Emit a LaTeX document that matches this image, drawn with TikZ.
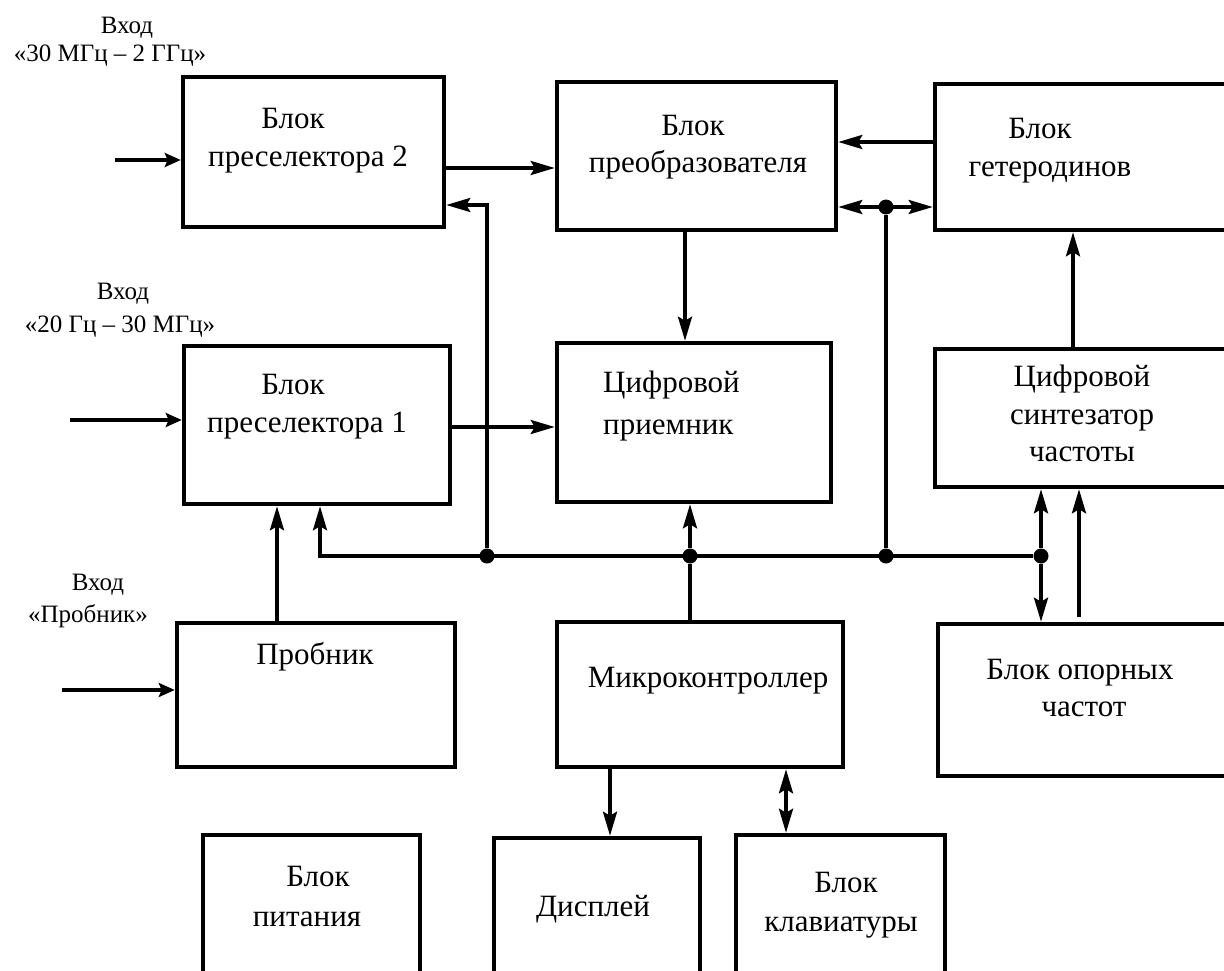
\documentclass[tikz,border=0pt]{standalone}
\usepackage{fontspec}
\setmainfont{Liberation Serif}
\usetikzlibrary{arrows.meta}
\begin{document}
\begin{tikzpicture}[x=1pt,y=-1pt,
  blk/.style={draw, line width=4.5pt, rectangle, inner sep=0pt, anchor=center},
  txt/.style={font=\fontsize{31}{37}\selectfont, anchor=base, inner sep=0pt},
  lbl/.style={font=\fontsize{25}{30}\selectfont, anchor=base, inner sep=0pt},
  tip/.tip={Stealth[length=24pt,width=14pt,inset=4pt]},
  smalltip/.tip={Stealth[length=16pt,width=14pt,inset=3pt]},
  con/.style={line width=3.5pt},
  arr/.style={con, -tip},
  arrb/.style={con, tip-tip},
  inarr/.style={line width=4.5pt, -smalltip},
  dot/.style={circle, fill, inner sep=0pt, minimum size=15pt}]
\useasboundingbox (0,0) rectangle (1224,971);
\fill[white] (0,0) rectangle (1224,971);
\clip (0,0) rectangle (1224,971);

% ---- blocks
\node[blk, minimum width=261pt, minimum height=150pt] (p2)    at (313.5,152)  {};
\node[blk, minimum width=279pt, minimum height=148pt] (conv)  at (696.5,156)  {};
\node[blk, minimum width=305pt, minimum height=146pt] (het)   at (1087.5,157) {};
\node[blk, minimum width=266pt, minimum height=158pt] (p1)    at (317,425)    {};
\node[blk, minimum width=274pt, minimum height=159pt] (rcv)   at (694,422.5)  {};
\node[blk, minimum width=305pt, minimum height=138pt] (syn)   at (1087.5,418) {};
\node[blk, minimum width=278pt, minimum height=144pt] (probe) at (316,695)    {};
\node[blk, minimum width=286pt, minimum height=145pt] (mcu)   at (700,694.5)  {};
\node[blk, minimum width=302pt, minimum height=152pt] (ref)   at (1089,700)   {};
\node[blk, minimum width=217pt, minimum height=155pt] (psu)   at (311.5,912.5){};
\node[blk, minimum width=206pt, minimum height=152pt] (disp)  at (597,914)    {};
\node[blk, minimum width=209pt, minimum height=155pt] (kbd)   at (840.5,912.5){};

% ---- block captions
\node[txt] (p2a) at (293,129) {Блок};
\node[txt] (p2b) at (308,167) {преселектора 2};
\node[txt] (cva) at (693,136) {Блок};
\node[txt] (cvb) at (698,172) {преобразователя};
\node[txt] (hta) at (1040,139) {Блок};
\node[txt] (htb) at (1050,176) {гетеродинов};
\node[txt] (p1a) at (293,394) {Блок};
\node[txt] (p1b) at (307,432) {преселектора 1};
\node[txt, anchor=base west] (rca) at (603,392) {Цифровой};
\node[txt, anchor=base west] (rcb) at (603,434) {приемник};
\node[txt] (sya) at (1082,386) {Цифровой};
\node[txt] (syb) at (1082,424) {синтезатор};
\node[txt] (syc) at (1082,461) {частоты};
\node[txt] (pba) at (315,664) {Пробник};
\node[txt] (mca) at (708,687) {Микроконтроллер};
\node[txt] (rfa) at (1080,679) {Блок опорных};
\node[txt] (rfb) at (1084,716) {частот};
\node[txt] (psa) at (318,886) {Блок};
\node[txt] (psb) at (307,926) {питания};
\node[txt] (dsa) at (593,916) {Дисплей};
\node[txt] (kba) at (846,892) {Блок};
\node[txt] (kbb) at (841,931) {клавиатуры};

% ---- input captions
\node[lbl] (i2a) at (127,34)  {Вход};
\node[lbl] (i2b) at (110,62)  {«30 МГц – 2 ГГц»};
\node[lbl] (i1a) at (123,299) {Вход};
\node[lbl] (i1b) at (120,332) {«20 Гц – 30 МГц»};
\node[lbl] (ipa) at (98,590)  {Вход};
\node[lbl] (ipb) at (88,622)  {«Пробник»};

% ---- junctions
\node[dot] (d1) at (487,556)  {};
\node[dot] (d2) at (690,556)  {};
\node[dot] (d3) at (886,556)  {};
\node[dot] (d4) at (886,207)  {};
\node[dot] (d5) at (1041,556) {};

% ---- inputs
\coordinate (in2) at (115,160);
\coordinate (in1) at (70,420);
\coordinate (inp) at (62,690);
\draw[inarr] (in2) -- (in2 -| p2.west);
\draw[inarr] (in1) -- (in1 -| p1.west);
\draw[inarr] (inp) -- (inp -| probe.west);

% ---- signal path
\draw[arr] (p2.east |- 0,168) -- (conv.west |- 0,168);
\draw[arr] (p1.east |- 0,427) -- (rcv.west |- 0,427);
\draw[arr] (conv.south -| 685,0) -- (rcv.north -| 685,0);
\draw[arr] (het.west |- 0,142) -- (conv.east |- 0,142);
\draw[arrb] (conv.east |- d4) -- (het.west |- d4);
\draw[arr] (syn.north -| 1073,0) -- (het.south -| 1073,0);

% ---- control bus
\draw[arr] (d5) -| (p1.south -| 320,0);
\draw[arr] (d1) |- (p2.east |- 0,205);
\draw[con] (d3) -- (d4);
\draw[con] (mcu.north -| d2) -- (d2);
\draw[arr] (d2) -- (rcv.south -| d2);
\draw[arr] (probe.north -| 277,0) -- (p1.south -| 277,0);
\draw[arr] (d5) -- (syn.south -| d5);
\draw[arr] (d5) -- (ref.north -| d5);
\coordinate (r1) at (1079,617);
\draw[arr] (r1) -- (syn.south -| r1);

% ---- peripherals
\draw[arr] (mcu.south -| 610,0) -- (disp.north -| 610,0);
\draw[arrb] (mcu.south -| 786,0) -- (kbd.north -| 786,0);
\end{tikzpicture}
\end{document}
